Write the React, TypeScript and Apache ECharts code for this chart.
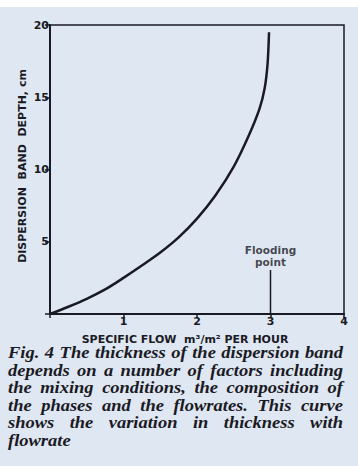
import React, { useEffect, useRef } from "react";
import * as echarts from "echarts";

const flowX = [0, 0.25, 0.5, 0.75, 1, 1.25, 1.5, 1.75, 2, 2.25, 2.5, 2.7, 2.85, 2.92, 2.96, 2.98];
const depthY = [0, 0.5, 1.05, 1.7, 2.5, 3.35, 4.25, 5.3, 6.6, 8.2, 10.2, 12.3, 14.2, 15.6, 17.3, 19.5];
const floodX = [3, 3];
const floodY = [0, 3.05];
const xTicks = ["", "1", "2", "3", "4"];
const yTicks = ["", "5", "10", "15", "20"];
const captionLines = [
  "Fig. 4 The thickness of the dispersion band",
  "depends on a number of factors including",
  "the mixing conditions, the composition of",
  "the phases and the flowrates. This curve",
  "shows the variation in thickness with",
  "flowrate",
];

const INK = "#1a1a24";
const BG = "#dfe7f2";

export default function App() {
  const ref = useRef<HTMLDivElement>(null);
  useEffect(() => {
    document.body.style.margin = "0";
    if (!ref.current) return;
    const chart = echarts.init(ref.current, null, { renderer: "svg" });

    const capFamily = "Liberation Serif";
    const capSize = 16;
    const capFont = `italic bold ${capSize}px '${capFamily}'`;
    const canvas = document.createElement("canvas");
    const ctx = canvas.getContext("2d")!;
    ctx.font = capFont;
    const left = 8;
    const right = 343;
    const capTop = 353;
    const lineH = 17.6;
    // horizontal stretch so that the first line has ~5.5px word gaps like the reference
    const first = captionLines[0].split(" ");
    const firstTotal = first.map((w) => ctx.measureText(w).width).reduce((a, b) => a + b, 0);
    const sx = (right - left - (first.length - 1) * 5.5) / firstTotal;
    const capEls: any[] = [];
    captionLines.forEach((line, i) => {
      const words = line.split(" ");
      const y = capTop + i * lineH;
      const justify = i < captionLines.length - 1 && words.length > 1;
      const widths = words.map((w) => ctx.measureText(w).width * sx);
      const total = widths.reduce((a, b) => a + b, 0);
      const gap = justify ? (right - left - total) / (words.length - 1) : ctx.measureText(" ").width * sx;
      let x = left;
      words.forEach((w, j) => {
        capEls.push({
          type: "text",
          x,
          y,
          scaleX: sx,
          style: {
            text: w,
            fill: INK,
            fontFamily: capFamily,
            fontSize: capSize,
            fontWeight: "bold",
            fontStyle: "italic",
            textVerticalAlign: "middle",
          },
        });
        x += widths[j] + gap;
      });
    });

    const sans = "DejaVu Sans";
    chart.setOption({
      animation: false,
      backgroundColor: BG,
      grid: {
        left: 50,
        top: 25,
        right: 14,
        bottom: 152,
        show: true,
        borderColor: INK,
        borderWidth: 1.5,
        backgroundColor: "transparent",
      },
      xAxis: {
        type: "value",
        min: 0,
        max: 4,
        interval: 1,
        splitLine: { show: false },
        axisLine: { lineStyle: { color: INK, width: 2 } },
        axisTick: { show: true, length: 4, lineStyle: { color: INK, width: 1.5 } },
        axisLabel: {
          color: INK,
          fontFamily: sans,
          fontWeight: "bold",
          fontSize: 11,
          margin: 2,
          formatter: (v: number) => xTicks[Math.round(v)] ?? "",
        },
      },
      yAxis: {
        type: "value",
        min: 0,
        max: 20,
        interval: 5,
        splitLine: { show: false },
        axisLine: { show: true, lineStyle: { color: INK, width: 2 } },
        axisTick: { show: true, length: 5, lineStyle: { color: INK, width: 1.5 } },
        axisLabel: {
          color: INK,
          fontFamily: sans,
          fontWeight: "bold",
          fontSize: 11,
          margin: 1,
          formatter: (v: number) => yTicks[Math.round(v / 5)] ?? "",
        },
      },
      series: [
        {
          type: "line",
          data: flowX.map((x, i) => [x, depthY[i]]),
          showSymbol: false,
          smooth: 0.3,
          lineStyle: { color: INK, width: 2.5 },
        },
        {
          type: "line",
          data: floodX.map((x, i) => [x, floodY[i]]),
          showSymbol: false,
          lineStyle: { color: INK, width: 1.5 },
        },
        {
          type: "scatter",
          data: [[floodX[1], floodY[1]]],
          symbolSize: 1,
          itemStyle: { color: "transparent" },
          label: {
            show: true,
            position: "top",
            distance: 1,
            formatter: "Flooding\npoint",
            color: INK,
            fontFamily: sans,
            fontWeight: "bold",
            fontSize: 10.5,
            lineHeight: 12.5,
            align: "center",
          },
        },
      ],
      graphic: [
        { type: "rect", shape: { x: 0, y: 0, width: 358, height: 7 }, style: { fill: "#ffffff" }, z: -1 },
        {
          type: "text",
          x: 22,
          y: 166,
          rotation: Math.PI / 2,
          style: {
            text: "DISPERSION  BAND  DEPTH, cm",
            fill: INK,
            fontFamily: sans,
            fontWeight: "bold",
            fontSize: 11,
            align: "center",
            verticalAlign: "middle",
          },
        },
        {
          type: "text",
          x: 185,
          y: 339,
          style: {
            text: "SPECIFIC FLOW  m\u00b3/m\u00b2 PER HOUR",
            fill: INK,
            fontFamily: sans,
            fontWeight: "bold",
            fontSize: 11,
            align: "center",
            verticalAlign: "middle",
          },
        },
        ...capEls,
      ],
    });
    return () => chart.dispose();
  }, []);
  return <div ref={ref} style={{ width: 358, height: 466 }} />;
}
